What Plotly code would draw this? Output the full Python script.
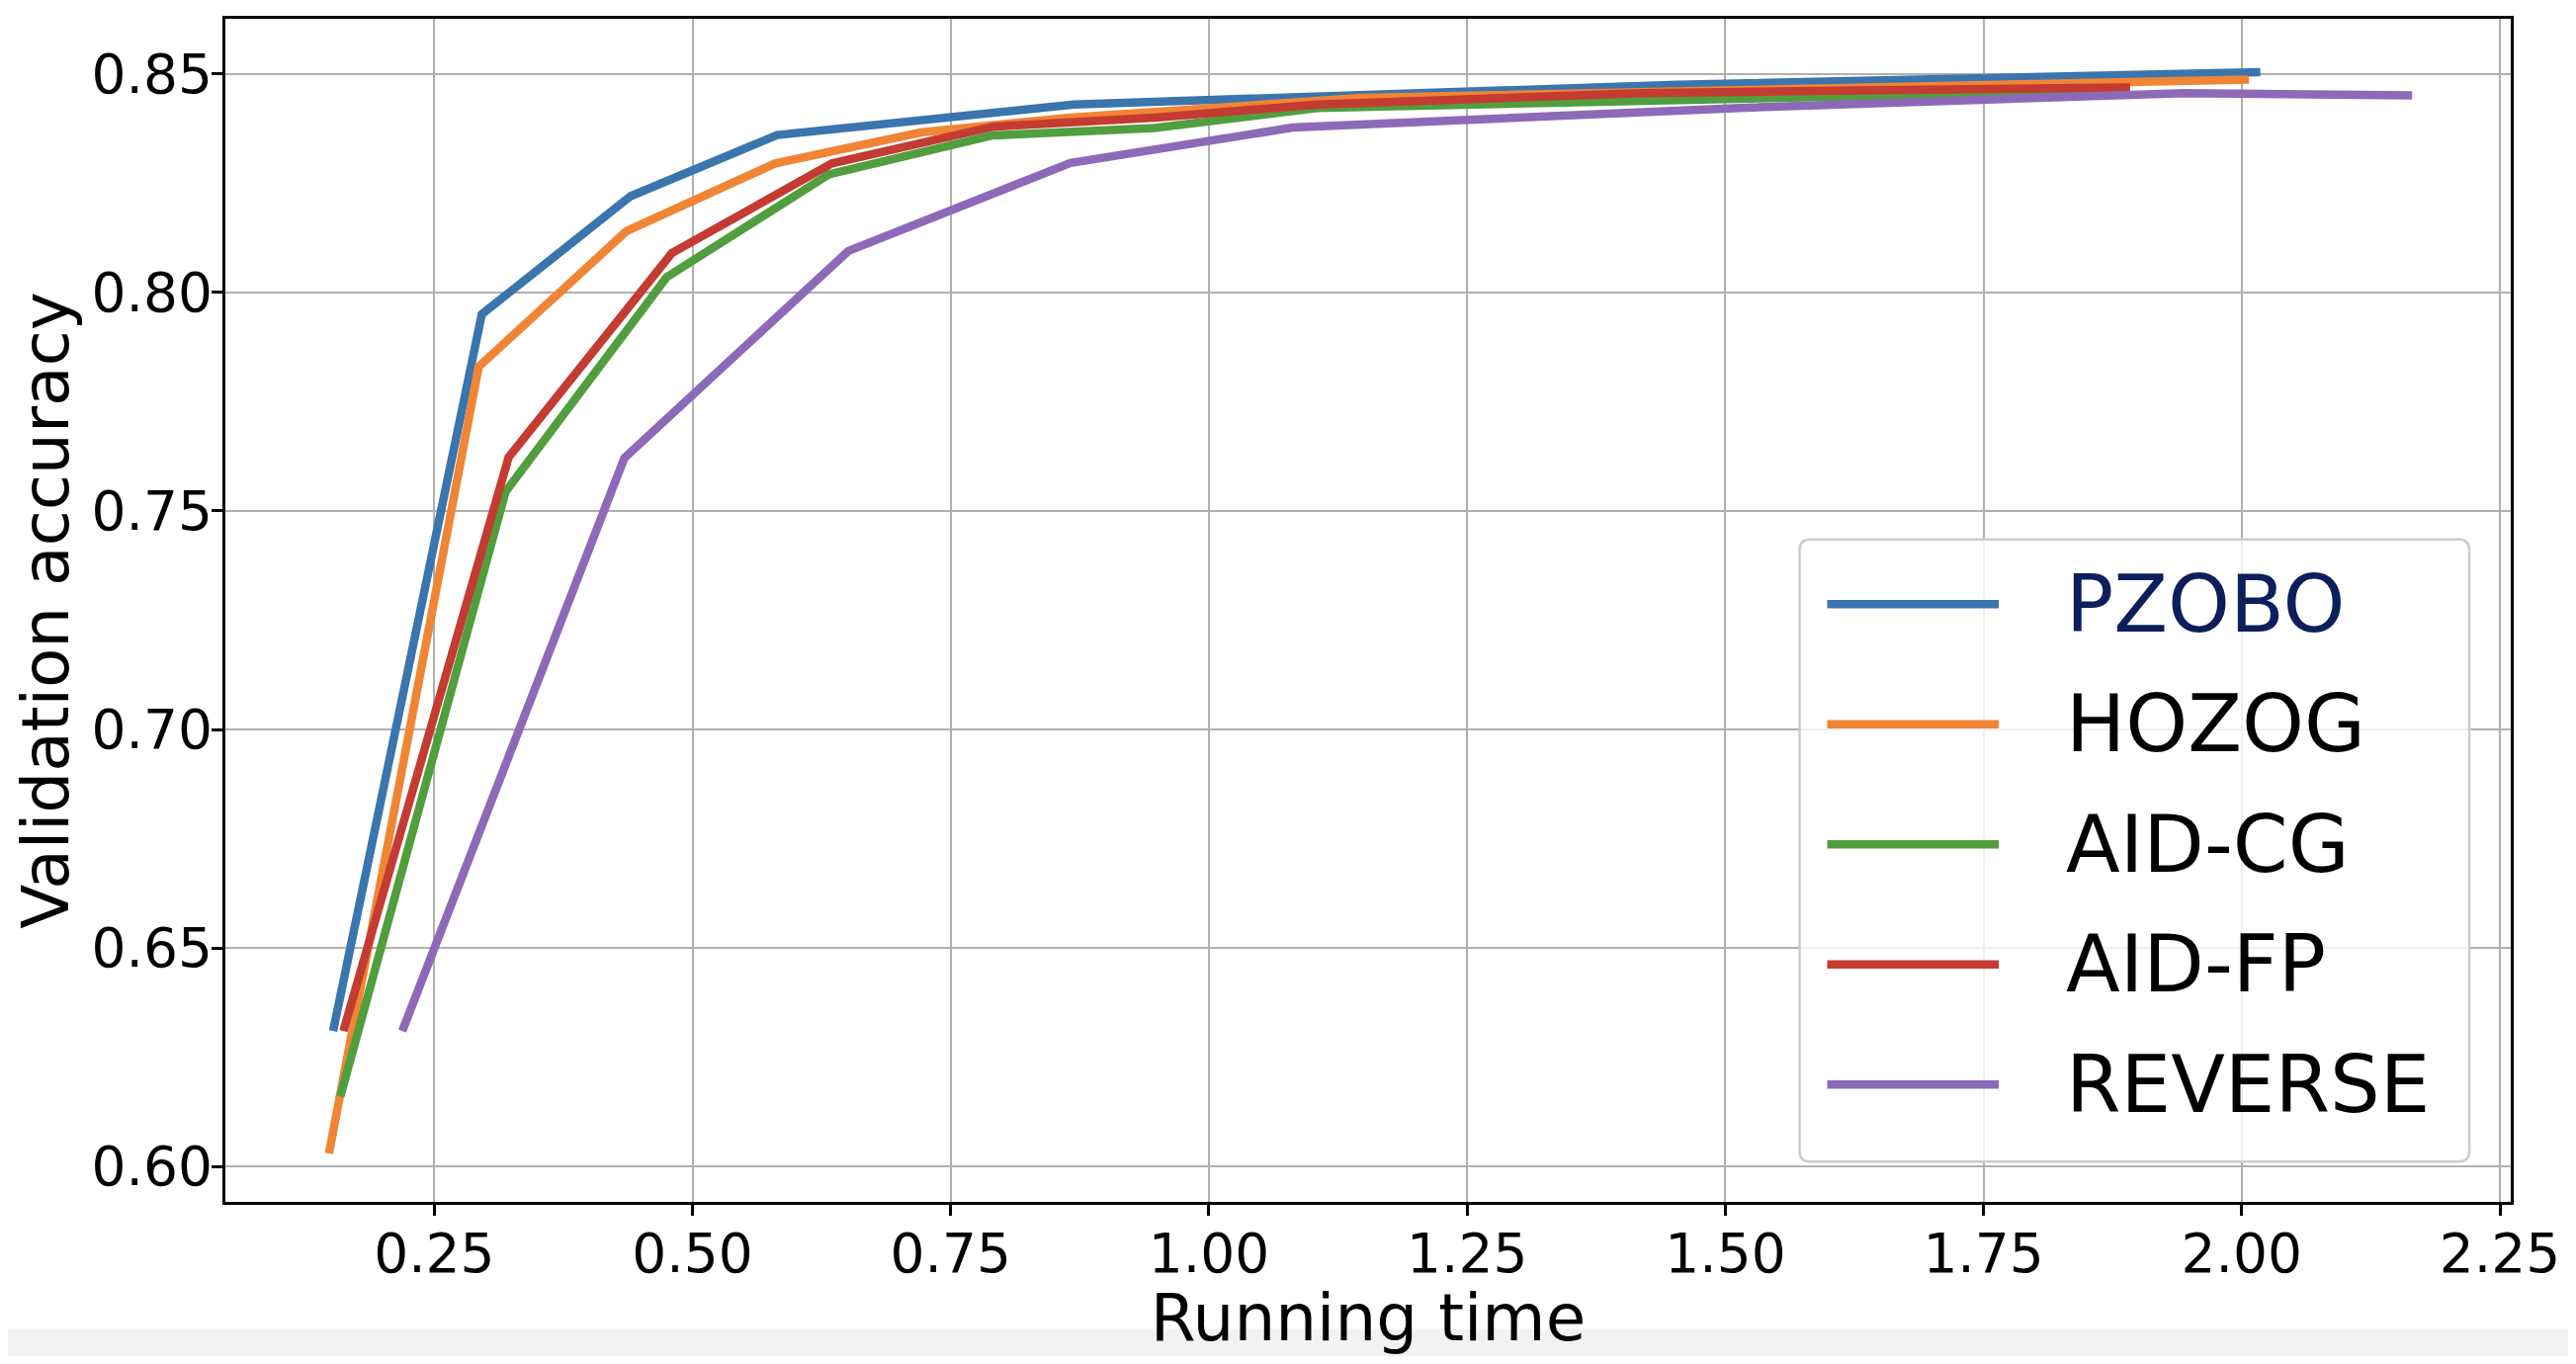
import plotly.graph_objects as go

# running time vs validation accuracy
methods = ["PZOBO", "HOZOG", "AID-CG", "AID-FP", "REVERSE"]

time_pzobo = [0.152, 0.296, 0.440, 0.582, 0.869, 1.454, 2.018]
acc_pzobo = [0.631, 0.795, 0.822, 0.836, 0.843, 0.8475, 0.8504]

time_hozog = [0.148, 0.293, 0.436, 0.580, 0.721, 0.866, 1.148, 1.583, 2.007]
acc_hozog = [0.603, 0.783, 0.814, 0.8295, 0.8366, 0.840, 0.8445, 0.8467, 0.8487]

time_aidcg = [0.159, 0.319, 0.475, 0.632, 0.790, 0.947, 1.105, 1.419, 1.890]
acc_aidcg = [0.616, 0.7544, 0.8035, 0.827, 0.8359, 0.8376, 0.8422, 0.8438, 0.8462]

time_aidfp = [0.162, 0.322, 0.480, 0.635, 0.791, 0.948, 1.105, 1.419, 1.892]
acc_aidfp = [0.631, 0.7623, 0.809, 0.8295, 0.8379, 0.840, 0.843, 0.8456, 0.8469]

time_reverse = [0.219, 0.434, 0.651, 0.866, 1.081, 1.514, 1.944, 2.165]
acc_reverse = [0.631, 0.7621, 0.8095, 0.8296, 0.8377, 0.8422, 0.8456, 0.8451]

x_ticks = [0.25, 0.50, 0.75, 1.00, 1.25, 1.50, 1.75, 2.00, 2.25]
y_ticks = [0.60, 0.65, 0.70, 0.75, 0.80, 0.85]

colors = ["#3a75ae", "#ef8535", "#519e3e", "#c43b32", "#8d6ab8"]
series = [
    (time_pzobo, acc_pzobo),
    (time_hozog, acc_hozog),
    (time_aidcg, acc_aidcg),
    (time_aidfp, acc_aidfp),
    (time_reverse, acc_reverse),
]

FONT = "DejaVu Sans"

fig = go.Figure()
for name, (t, a), c in zip(methods, series, colors):
    fig.add_trace(go.Scatter(x=t, y=a, mode="lines", name=name,
                             line=dict(color=c, width=8.5), showlegend=False))

# hand-drawn legend box (matplotlib style, long line samples)
x0, x1, y0, y1 = 0.6888, 0.9819, 0.0341, 0.5599
rx, ry = 0.0047, 0.0092
box = (f"M {x0+rx},{y0} L {x1-rx},{y0} Q {x1},{y0} {x1},{y0+ry} "
       f"L {x1},{y1-ry} Q {x1},{y1} {x1-rx},{y1} L {x0+rx},{y1} "
       f"Q {x0},{y1} {x0},{y1-ry} L {x0},{y0+ry} Q {x0},{y0} {x0+rx},{y0} Z")
shapes = [dict(type="path", path=box, xref="paper", yref="paper",
               fillcolor="rgba(255,255,255,0.8)", line=dict(color="#cccccc", width=2.5),
               layer="above")]
annotations = []
row_top, row_step = 0.5052, 0.1015
for i, (name, c) in enumerate(zip(methods, colors)):
    yy = row_top - i * row_step
    shapes.append(dict(type="line", xref="paper", yref="paper",
                       x0=0.7009, x1=0.7760, y0=yy, y1=yy,
                       line=dict(color=c, width=8.5), layer="above"))
    annotations.append(dict(text=name, xref="paper", yref="paper", x=0.8045, y=yy,
                            xanchor="left", yanchor="middle", showarrow=False,
                            font=dict(family=FONT, size=80,
                                      color="#0c1e5b" if i == 0 else "black")))

# faint grey strip along the bottom of the screenshot
shapes.append(dict(type="rect", xref="paper", yref="paper", x0=-0.2, x1=1.2,
                   y0=-0.3, y1=-0.1073, fillcolor="#f2f2f2", line=dict(width=0),
                   layer="below"))

axis_common = dict(showgrid=True, gridcolor="#b0b0b0", gridwidth=2,
                   showline=True, linecolor="black", linewidth=3, mirror=True,
                   ticks="outside", ticklen=11, tickwidth=2.5, tickcolor="black",
                   zeroline=False, tickformat=".2f",
                   tickfont=dict(family=FONT, size=55, color="black"))

# page has an 8px body margin, so the figure is a bit smaller than the window
fig.update_layout(
    width=2590, height=1364,
    margin=dict(l=220, r=53, t=8, b=154),
    paper_bgcolor="white", plot_bgcolor="white",
    shapes=shapes, annotations=annotations,
    xaxis=dict(range=[0.0477, 2.2605], tickvals=x_ticks, ticklabelstandoff=-9,
               title=dict(text="Running time", standoff=18,
                          font=dict(family=FONT, size=66, color="black")),
               **axis_common),
    yaxis=dict(range=[0.5919, 0.8626], tickvals=y_ticks, ticklabelstandoff=-12,
               title=dict(text="Validation accuracy", standoff=18,
                          font=dict(family=FONT, size=66, color="black")),
               **axis_common),
)

fig.write_html("out.html")
